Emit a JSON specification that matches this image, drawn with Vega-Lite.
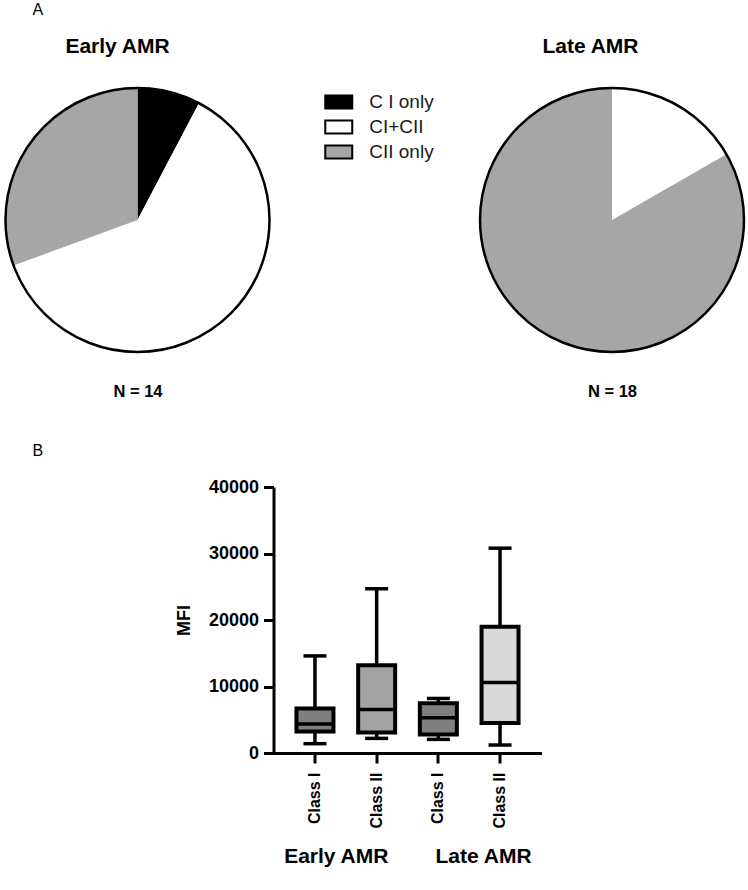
{
  "$schema": "https://vega.github.io/schema/vega-lite/v6.json",
  "padding": {"left": 0.5, "top": 2, "right": 0, "bottom": 0},
  "background": "white",
  "config": {
    "font": "Liberation Sans",
    "view": {"stroke": null},
    "title": {"color": "#000000"},
    "axis": {"labelColor": "#000000", "titleColor": "#000000", "domainColor": "#000000", "tickColor": "#000000", "grid": false}
  },
  "datasets": {
    "pies": [
      {"period": "Early AMR", "category": "C I only", "pct": 7.7},
      {"period": "Early AMR", "category": "CI+CII", "pct": 61.7},
      {"period": "Early AMR", "category": "CII only", "pct": 30.6},
      {"period": "Late AMR", "category": "CI+CII", "pct": 16.7},
      {"period": "Late AMR", "category": "CII only", "pct": 83.3}
    ],
    "cohorts": [
      {"period": "Early AMR", "n": 14, "label": "N = 14"},
      {"period": "Late AMR", "n": 18, "label": "N = 18"}
    ],
    "boxes": [
      {"box": "Early AMR / Class I", "min": 1400, "q1": 3250, "median": 4350, "q3": 6700, "max": 14600},
      {"box": "Early AMR / Class II", "min": 2200, "q1": 3100, "median": 6550, "q3": 13200, "max": 24700},
      {"box": "Late AMR / Class I", "min": 2050, "q1": 2800, "median": 5300, "q3": 7500, "max": 8200},
      {"box": "Late AMR / Class II", "min": 1200, "q1": 4500, "median": 10600, "q3": 19000, "max": 30800}
    ],
    "groups": [
      {"group": "Early AMR"},
      {"group": "Late AMR"}
    ]
  },
  "spacing": 43,
  "resolve": {"scale": {"color": "independent"}, "legend": {"color": "independent"}},
  "vconcat": [
    {
      "title": {"text": "A", "anchor": "start", "frame": "group", "fontSize": 16, "fontWeight": "normal", "baseline": "alphabetic", "offset": 5, "dx": 29},
      "bounds": "flush",
      "spacing": 206.5,
      "resolve": {"scale": {"color": "independent"}, "legend": {"color": "independent"}},
      "hconcat": [
        {
          "width": 268,
          "height": 268,
          "title": {"text": "Early AMR", "anchor": "middle", "frame": "group", "fontSize": 21, "fontWeight": "bold", "baseline": "alphabetic", "offset": 9, "dx": -20},
          "layer": [
            {
              "data": {"name": "pies"},
              "transform": [{"filter": "datum.period === 'Early AMR'"}],
              "mark": {"type": "arc", "radius": 132, "stroke": null},
              "encoding": {
                "theta": {"field": "pct", "type": "quantitative", "stack": "normalize"},
                "order": {"field": "category", "type": "ordinal", "sort": "ascending"},
                "color": {
                  "field": "category",
                  "type": "nominal",
                  "scale": {"domain": ["C I only", "CI+CII", "CII only"], "range": ["#000000", "#ffffff", "#a6a6a6"]},
                  "legend": {
                    "orient": "none",
                    "legendX": 325.75,
                    "legendY": 6.5,
                    "title": null,
                    "symbolType": "M-2,-0.96H2V0.96H-2Z",
                    "symbolSize": 182,
                    "symbolStrokeColor": "#000000",
                    "symbolStrokeWidth": 2,
                    "symbolOpacity": 1,
                    "labelFontSize": 19,
                    "labelOffset": 21,
                    "rowPadding": 4,
                    "labelColor": "#1a1a1a",
                    "labelFont": "Liberation Sans"
                  }
                }
              }
            },
            {
              "data": {"name": "cohorts"},
              "transform": [{"filter": "datum.period === 'Early AMR'"}],
              "mark": {"type": "arc", "radius": 132, "filled": false, "stroke": "#000000", "strokeWidth": 2.5},
              "encoding": {
                "x": {
                  "field": "label",
                  "type": "nominal",
                  "scale": {"type": "point"},
                  "axis": {"orient": "bottom", "title": null, "domain": false, "ticks": false, "tickSize": 0, "labelAngle": 0, "labelFontSize": 16.5, "labelFontWeight": "bold", "labelBaseline": "alphabetic", "labelPadding": 42}
                },
                "theta": {"field": "n", "type": "quantitative", "stack": "normalize"}
              }
            }
          ]
        },
        {
          "width": 268,
          "height": 268,
          "title": {"text": "Late AMR", "anchor": "middle", "frame": "group", "fontSize": 21, "fontWeight": "bold", "baseline": "alphabetic", "offset": 9, "dx": -21.5},
          "layer": [
            {
              "data": {"name": "pies"},
              "transform": [{"filter": "datum.period === 'Late AMR'"}],
              "mark": {"type": "arc", "radius": 132, "stroke": null},
              "encoding": {
                "theta": {"field": "pct", "type": "quantitative", "stack": "normalize"},
                "order": {"field": "category", "type": "ordinal", "sort": "ascending"},
                "color": {
                  "field": "category",
                  "type": "nominal",
                  "scale": {"domain": ["C I only", "CI+CII", "CII only"], "range": ["#000000", "#ffffff", "#a6a6a6"]},
                  "legend": null
                }
              }
            },
            {
              "data": {"name": "cohorts"},
              "transform": [{"filter": "datum.period === 'Late AMR'"}],
              "mark": {"type": "arc", "radius": 132, "filled": false, "stroke": "#000000", "strokeWidth": 2.5},
              "encoding": {
                "x": {
                  "field": "label",
                  "type": "nominal",
                  "scale": {"type": "point"},
                  "axis": {"orient": "bottom", "title": null, "domain": false, "ticks": false, "tickSize": 0, "labelAngle": 0, "labelFontSize": 16.5, "labelFontWeight": "bold", "labelBaseline": "alphabetic", "labelPadding": 42}
                },
                "theta": {"field": "n", "type": "quantitative", "stack": "normalize"}
              }
            }
          ]
        }
      ]
    },
    {
      "spacing": 71,
      "resolve": {"scale": {"color": "independent"}, "legend": {"color": "independent"}},
      "hconcat": [
        {
          "width": 100,
          "height": 1,
          "data": {"values": []},
          "mark": "point",
          "title": {"text": "B", "anchor": "start", "frame": "group", "fontSize": 16, "fontWeight": "normal", "baseline": "alphabetic", "offset": 15, "dx": 29}
        },
        {
          "bounds": "flush",
          "spacing": 94,
          "vconcat": [
            {
              "width": 268,
              "height": 266,
              "data": {"name": "boxes"},
              "encoding": {
                "x": {
                  "field": "box",
                  "type": "nominal",
                  "sort": null,
                  "scale": {"paddingInner": 0, "paddingOuter": 0.172},
                  "axis": {
                    "title": null,
                    "labelExpr": "split(datum.value, ' / ')[1]",
                    "labelAngle": -90,
                    "labelFontSize": 16,
                    "labelFontWeight": "bold",
                    "labelPadding": 9,
                    "tickSize": 10,
                    "tickWidth": 3,
                    "domainWidth": 3
                  }
                }
              },
              "layer": [
                {
                  "mark": {"type": "rule", "strokeWidth": 3.5, "color": "#000000"},
                  "encoding": {
                    "y": {
                      "field": "min",
                      "type": "quantitative",
                      "title": "MFI",
                      "scale": {"domain": [0, 40000], "nice": false},
                      "axis": {
                        "values": [0, 10000, 20000, 30000, 40000],
                        "format": "d",
                        "labelFontSize": 18,
                        "labelFontWeight": "bold",
                        "labelPadding": 5,
                        "tickSize": 10,
                        "tickWidth": 3,
                        "domainWidth": 3,
                        "titleFontSize": 18,
                        "titleFontWeight": "bold",
                        "titlePadding": 15
                      }
                    },
                    "y2": {"field": "max"}
                  }
                },
                {
                  "mark": {"type": "tick", "size": 23, "thickness": 3.5, "color": "#000000", "opacity": 1},
                  "encoding": {"y": {"field": "min", "type": "quantitative", "title": "MFI"}}
                },
                {
                  "mark": {"type": "tick", "size": 23, "thickness": 3.5, "color": "#000000", "opacity": 1},
                  "encoding": {"y": {"field": "max", "type": "quantitative", "title": "MFI"}}
                },
                {
                  "mark": {"type": "bar", "size": 37, "stroke": "#000000", "strokeWidth": 4, "opacity": 1},
                  "encoding": {
                    "y": {"field": "q1", "type": "quantitative", "title": "MFI"},
                    "y2": {"field": "q3"},
                    "fill": {
                      "field": "box",
                      "type": "nominal",
                      "scale": {
                        "domain": ["Early AMR / Class I", "Early AMR / Class II", "Late AMR / Class I", "Late AMR / Class II"],
                        "range": ["#7f7f7f", "#a3a3a3", "#7f7f7f", "#d9d9d9"]
                      },
                      "legend": null
                    }
                  }
                },
                {
                  "mark": {"type": "tick", "size": 37, "thickness": 3.5, "color": "#000000", "opacity": 1},
                  "encoding": {"y": {"field": "median", "type": "quantitative", "title": "MFI"}}
                }
              ]
            },
            {
              "width": 268,
              "height": 20,
              "data": {"name": "groups"},
              "mark": {"type": "text", "fontSize": 21, "fontWeight": "bold", "color": "#000000"},
              "encoding": {
                "x": {"field": "group", "type": "nominal", "sort": null, "scale": {"type": "point", "padding": 0.41, "align": 0.52}, "axis": null},
                "text": {"field": "group"}
              }
            }
          ]
        }
      ]
    }
  ]
}
